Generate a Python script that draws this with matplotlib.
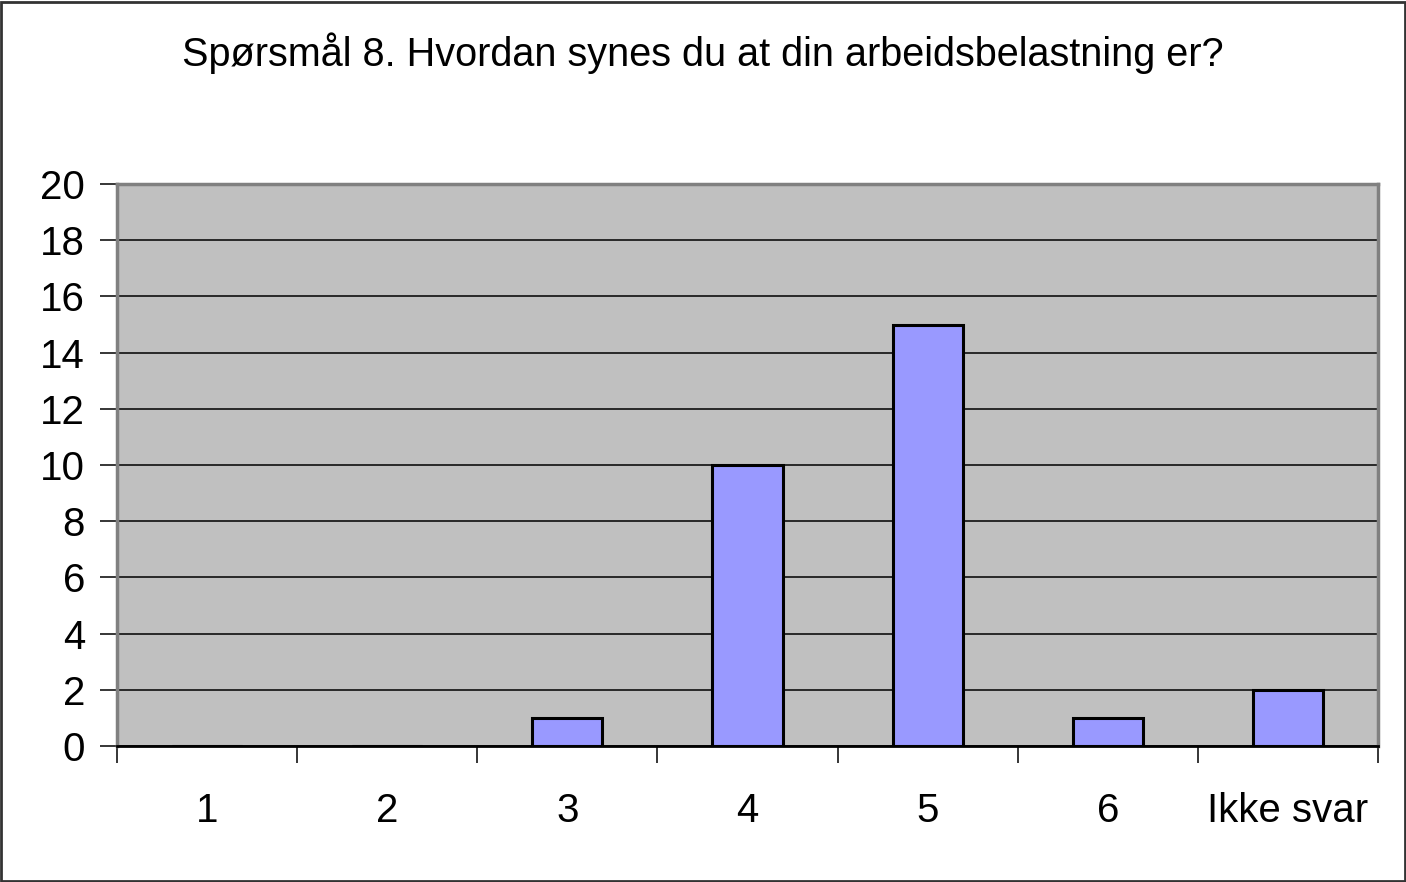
import matplotlib.pyplot as plt
import numpy as np
from matplotlib.patches import Rectangle

plt.rcParams['font.family'] = ['Liberation Sans', 'DejaVu Sans']

categories = ["1", "2", "3", "4", "5", "6", "Ikke svar"]
counts = [0, 0, 1, 10, 15, 1, 2]
yticks = [0, 2, 4, 6, 8, 10, 12, 14, 16, 18, 20]
title = "Spørsmål 8. Hvordan synes du at din arbeidsbelastning er?"

fig = plt.figure(figsize=(14.06, 8.82), dpi=100)
ax = fig.add_axes([117/1406, 1 - 746/882, (1378 - 117)/1406, (746 - 184)/882])

x = np.arange(len(categories))
ax.set_facecolor('#C0C0C0')
ax.bar(x, counts, width=0.39, color='#9999FF', edgecolor='black', linewidth=2.2, zorder=3)

ax.set_xlim(-0.5, len(categories) - 0.5)
ax.set_ylim(0, 20)
ax.set_yticks(yticks)
ax.yaxis.grid(True, color='black', linewidth=1.1, zorder=1)
ax.set_axisbelow(True)

# boundaries get tick marks, centers get labels
ax.set_xticks(np.arange(len(categories) + 1) - 0.5)
ax.set_xticklabels([])
ax.set_xticks(x, minor=True)
ax.set_xticklabels(categories, minor=True)
ax.tick_params(axis='x', which='major', length=12, width=1.1, color='black', direction='out')
ax.tick_params(axis='x', which='minor', length=0, pad=33, labelsize=29)
ax.tick_params(axis='y', length=12, width=1.1, color='black', pad=11, labelsize=29)

for s in ['top', 'right', 'left']:
    ax.spines[s].set_color('#808080')
    ax.spines[s].set_linewidth(2.5)
ax.spines['bottom'].set_color('black')
ax.spines['bottom'].set_linewidth(2)

fig.text(0.5, 1 - 53/882, title, ha='center', va='center', fontsize=28.5)

fig.patches.append(Rectangle((0.001, 0.001), 0.998, 0.997, transform=fig.transFigure,
                             fill=False, edgecolor='#333333', linewidth=2))

fig.savefig('out.png', dpi=100)
